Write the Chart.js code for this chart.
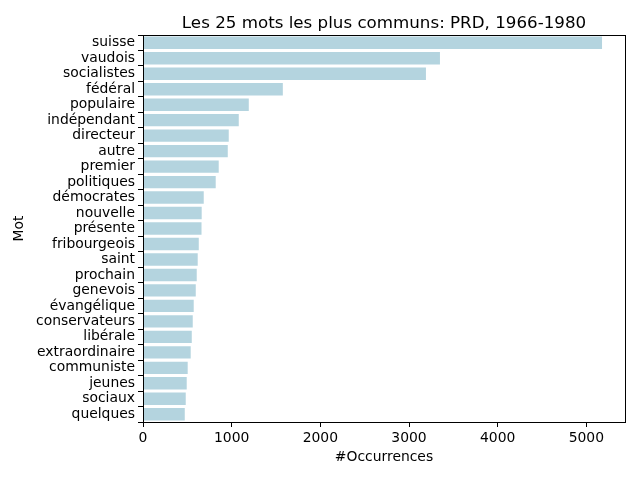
<!DOCTYPE html>
<html>
<head>
<meta charset="utf-8">
<script src="https://cdn.jsdelivr.net/npm/chart.js@4"></script>
<style>
  body { margin: 0; background: white; }
  #zone { width: 640px; height: 480px; }
</style>
</head>
<body>
<div id="zone"><canvas id="grafico"></canvas></div>
<script>
// Datos del grafico
const mots = ['suisse', 'vaudois', 'socialistes', 'fédéral', 'populaire', 'indépendant', 'directeur',
  'autre', 'premier', 'politiques', 'démocrates', 'nouvelle', 'présente', 'fribourgeois', 'saint',
  'prochain', 'genevois', 'évangélique', 'conservateurs', 'libérale', 'extraordinaire', 'communiste',
  'jeunes', 'sociaux', 'quelques']
const occurrences = [5177, 3349, 3191, 1577, 1193, 1080, 967, 956, 854, 820, 685, 662, 660, 629, 617,
  606, 595, 572, 561, 550, 538, 504, 493, 482, 471]
const xTicks = [0, 1000, 2000, 3000, 4000, 5000]
const titre = 'Les 25 mots les plus communs: PRD, 1966-1980'
const xMax = 5436

Chart.defaults.font.family = 'DejaVu Sans'
Chart.defaults.color = '#000'

// dibuja el marco completo alrededor del area del grafico
const marco = {
  id: 'marco',
  afterDraw(chart) {
    const { ctx, chartArea } = chart
    ctx.save()
    ctx.strokeStyle = '#000'
    ctx.lineWidth = 1
    ctx.strokeRect(Math.round(chartArea.left) + 0.5, Math.round(chartArea.top) + 0.5,
      Math.round(chartArea.right - chartArea.left), Math.round(chartArea.bottom - chartArea.top))
    ctx.restore()
  }
}

new Chart(document.getElementById('grafico'), {
  type: 'bar',
  data: {
    labels: mots,
    datasets: [{
      data: occurrences,
      backgroundColor: 'rgb(180,212,223)',
      borderWidth: 0,
      barPercentage: 0.8,
      categoryPercentage: 1
    }]
  },
  options: {
    indexAxis: 'y',
    responsive: true,
    maintainAspectRatio: false,
    animation: false,
    layout: { padding: { left: 0, right: 15, top: 0, bottom: 0 } },
    plugins: {
      legend: { display: false },
      tooltip: { enabled: false },
      title: {
        display: true,
        text: titre,
        fullSize: false,
        color: '#000',
        font: { size: 16.7, weight: 'normal' },
        padding: { top: 14, bottom: 1 }
      }
    },
    scales: {
      x: {
        min: 0,
        max: xMax,
        afterFit(scale) { scale.height = 58 },
        afterBuildTicks(scale) { scale.ticks = xTicks.map(v => ({ value: v })) },
        ticks: { font: { size: 13.9 }, padding: 3, maxRotation: 0, callback: v => String(v) },
        grid: { display: true, drawOnChartArea: false, tickLength: 5, color: '#000' },
        border: { display: true, color: '#000', width: 1 },
        title: { display: true, text: '#Occurrences', font: { size: 13.9 }, padding: { top: 0, bottom: 14 } }
      },
      y: {
        afterFit(scale) { scale.width = 143 },
        ticks: { font: { size: 13.9 }, padding: 3, autoSkip: false },
        grid: { display: true, drawOnChartArea: false, tickLength: 5, color: '#000' },
        border: { display: true, color: '#000', width: 1 },
        title: { display: true, text: 'Mot', font: { size: 13.9 }, padding: { top: 11, bottom: 0 } }
      }
    }
  },
  plugins: [marco]
})
</script>
</body>
</html>
